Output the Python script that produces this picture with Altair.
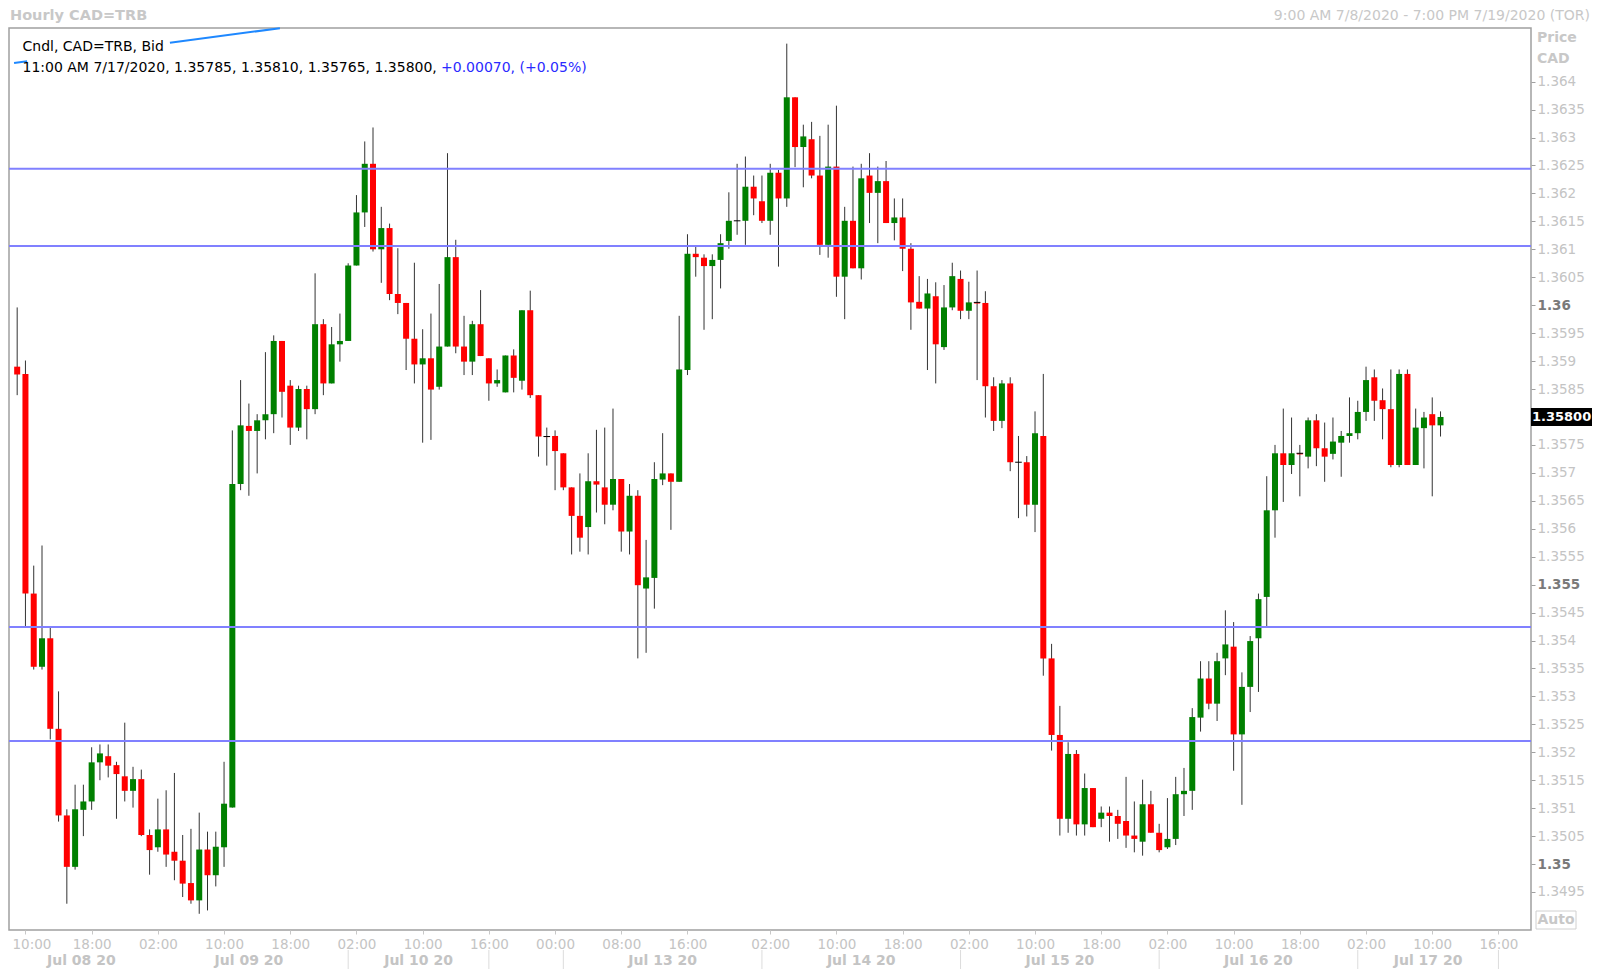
import altair as alt
import pandas as pd

# ---------------- data (hourly candles, index 0 = 9:00 AM 7/8/2020) ----------------
open_ = [1.35890, 1.35877, 1.35484, 1.35353, 1.35404, 1.35242, 1.35087, 1.34995, 1.35097, 1.35112,
         1.35182, 1.35193, 1.35177, 1.35157, 1.35131, 1.35152, 1.35052, 1.35030, 1.35062, 1.35022,
         1.35006, 1.34966, 1.34935, 1.35026, 1.34980, 1.35030, 1.35101, 1.35680, 1.35784, 1.35775,
         1.35794, 1.35805, 1.35936, 1.35856, 1.35781, 1.35850, 1.35814, 1.35966, 1.35860, 1.35930,
         1.35936, 1.36071, 1.36166, 1.36253, 1.36100, 1.36138, 1.36020, 1.36004, 1.35940, 1.35894,
         1.35905, 1.35854, 1.35926, 1.36086, 1.35926, 1.35899, 1.35966, 1.35905, 1.35860, 1.35844,
         1.35910, 1.35865, 1.35991, 1.35839, 1.35765, 1.35766, 1.35735, 1.35674, 1.35623, 1.35603,
         1.35685, 1.35674, 1.35643, 1.35689, 1.35595, 1.35659, 1.35493, 1.35512, 1.35688, 1.35699,
         1.35684, 1.35884, 1.36092, 1.36085, 1.36070, 1.36081, 1.36115, 1.36151, 1.36151, 1.36212,
         1.36186, 1.36151, 1.36237, 1.36191, 1.36372, 1.36283, 1.36297, 1.36232, 1.36108, 1.36248,
         1.36051, 1.36151, 1.36066, 1.36232, 1.36201, 1.36222, 1.36147, 1.36157, 1.36101, 1.36006,
         1.35994, 1.36016, 1.35925, 1.35996, 1.36047, 1.35990, 1.36005, 1.36004, 1.35855, 1.35793,
         1.35860, 1.35719, 1.35719, 1.35643, 1.35766, 1.35368, 1.35231, 1.35081, 1.35197, 1.35071,
         1.35136, 1.35081, 1.35092, 1.35086, 1.35077, 1.35051, 1.35040, 1.35107, 1.35056, 1.35030,
         1.35045, 1.35125, 1.35131, 1.35262, 1.35332, 1.35287, 1.35368, 1.35389, 1.35232, 1.35317,
         1.35404, 1.35478, 1.35633, 1.35735, 1.35714, 1.35735, 1.35729, 1.35794, 1.35744, 1.35734,
         1.35754, 1.35766, 1.35771, 1.35809, 1.35871, 1.35830, 1.35814, 1.35714, 1.35877, 1.35714,
         1.35780, 1.35805, 1.35785]
high = [1.35996, 1.35901, 1.35534, 1.35570, 1.35423, 1.35309, 1.35098, 1.35142, 1.35142, 1.35209,
        1.35214, 1.35214, 1.35183, 1.35253, 1.35174, 1.35169, 1.35062, 1.35117, 1.35132, 1.35163,
        1.35052, 1.35063, 1.35092, 1.35058, 1.35058, 1.35183, 1.35776, 1.35866, 1.35824, 1.35805,
        1.35916, 1.35946, 1.35936, 1.35866, 1.35856, 1.35856, 1.36057, 1.35975, 1.35961, 1.35985,
        1.36075, 1.36197, 1.36293, 1.36318, 1.36176, 1.36146, 1.36102, 1.36004, 1.36076, 1.35957,
        1.35985, 1.36038, 1.36272, 1.36117, 1.35981, 1.35972, 1.36027, 1.35905, 1.35885, 1.35910,
        1.35921, 1.35991, 1.36026, 1.35839, 1.35781, 1.35776, 1.35735, 1.35674, 1.35699, 1.35735,
        1.35777, 1.35781, 1.35815, 1.35689, 1.35680, 1.35669, 1.35580, 1.35719, 1.35771, 1.35699,
        1.35981, 1.36127, 1.36105, 1.36091, 1.36091, 1.36127, 1.36202, 1.36253, 1.36266, 1.36232,
        1.36232, 1.36253, 1.36242, 1.36468, 1.36372, 1.36323, 1.36328, 1.36303, 1.36323, 1.36357,
        1.36176, 1.36248, 1.36253, 1.36272, 1.36248, 1.36258, 1.36191, 1.36191, 1.36111, 1.36052,
        1.36047, 1.36041, 1.36036, 1.36076, 1.36062, 1.36042, 1.36062, 1.36025, 1.35871, 1.35866,
        1.35871, 1.35766, 1.35730, 1.35810, 1.35877, 1.35394, 1.35283, 1.35218, 1.35204, 1.35162,
        1.35136, 1.35103, 1.35103, 1.35097, 1.35156, 1.35112, 1.35151, 1.35131, 1.35072, 1.35118,
        1.35156, 1.35172, 1.35279, 1.35363, 1.35363, 1.35378, 1.35454, 1.35433, 1.35343, 1.35408,
        1.35484, 1.35694, 1.35750, 1.35815, 1.35799, 1.35750, 1.35799, 1.35805, 1.35790, 1.35799,
        1.35775, 1.35835, 1.35829, 1.35890, 1.35885, 1.35851, 1.35885, 1.35885, 1.35885, 1.35815,
        1.35809, 1.35835, 1.35810]
low = [1.35839, 1.35426, 1.35348, 1.35348, 1.35223, 1.35076, 1.34929, 1.34990, 1.35050, 1.35097,
       1.35150, 1.35155, 1.35081, 1.35112, 1.35101, 1.35050, 1.34981, 1.35022, 1.34995, 1.34971,
       1.34941, 1.34929, 1.34911, 1.34917, 1.34960, 1.34995, 1.35101, 1.35669, 1.35659, 1.35699,
       1.35760, 1.35771, 1.35799, 1.35750, 1.35775, 1.35760, 1.35805, 1.35839, 1.35860, 1.35899,
       1.35936, 1.36071, 1.36140, 1.36096, 1.36040, 1.36009, 1.35984, 1.35884, 1.35860, 1.35754,
       1.35759, 1.35849, 1.35926, 1.35914, 1.35875, 1.35875, 1.35909, 1.35829, 1.35854, 1.35844,
       1.35844, 1.35849, 1.35834, 1.35729, 1.35713, 1.35669, 1.35669, 1.35554, 1.35559, 1.35554,
       1.35629, 1.35608, 1.35633, 1.35559, 1.35554, 1.35368, 1.35378, 1.35457, 1.35678, 1.35598,
       1.35684, 1.35875, 1.36051, 1.35956, 1.35975, 1.36030, 1.36101, 1.36126, 1.36108, 1.36161,
       1.36147, 1.36126, 1.36069, 1.36176, 1.36247, 1.36211, 1.36227, 1.36090, 1.36085, 1.36015,
       1.35975, 1.36066, 1.36046, 1.36147, 1.36111, 1.36147, 1.36116, 1.36061, 1.35956, 1.35994,
       1.35884, 1.35860, 1.35920, 1.35991, 1.35975, 1.35975, 1.35866, 1.35799, 1.35775, 1.35780,
       1.35703, 1.35619, 1.35622, 1.35594, 1.35337, 1.35203, 1.35051, 1.35056, 1.35051, 1.35051,
       1.35066, 1.35066, 1.35040, 1.35045, 1.35029, 1.35021, 1.35015, 1.35056, 1.35021, 1.35027,
       1.35034, 1.35086, 1.35097, 1.35237, 1.35277, 1.35256, 1.35338, 1.35167, 1.35106, 1.35272,
       1.35308, 1.35424, 1.35584, 1.35648, 1.35698, 1.35658, 1.35708, 1.35712, 1.35684, 1.35724,
       1.35693, 1.35754, 1.35760, 1.35793, 1.35793, 1.35760, 1.35710, 1.35710, 1.35714, 1.35714,
       1.35708, 1.35658, 1.35765]
close = [1.35876, 1.35484, 1.35353, 1.35404, 1.35242, 1.35087, 1.34995, 1.35098, 1.35112, 1.35182,
         1.35198, 1.35176, 1.35161, 1.35131, 1.35152, 1.35052, 1.35025, 1.35062, 1.35017, 1.35006,
         1.34965, 1.34935, 1.35026, 1.34980, 1.35031, 1.35108, 1.35680, 1.35785, 1.35775, 1.35794,
         1.35805, 1.35936, 1.35845, 1.35781, 1.35850, 1.35814, 1.35966, 1.35860, 1.35930, 1.35936,
         1.36071, 1.36166, 1.36253, 1.36100, 1.36138, 1.36020, 1.36004, 1.35940, 1.35894, 1.35905,
         1.35849, 1.35926, 1.36086, 1.35926, 1.35899, 1.35966, 1.35909, 1.35860, 1.35866, 1.35910,
         1.35870, 1.35991, 1.35839, 1.35765, 1.35764, 1.35739, 1.35674, 1.35623, 1.35584, 1.35685,
         1.35679, 1.35643, 1.35689, 1.35595, 1.35659, 1.35499, 1.35513, 1.35689, 1.35699, 1.35684,
         1.35885, 1.36092, 1.36086, 1.36070, 1.36081, 1.36111, 1.36151, 1.36151, 1.36212, 1.36191,
         1.36151, 1.36237, 1.36191, 1.36372, 1.36283, 1.36302, 1.36232, 1.36108, 1.36248, 1.36051,
         1.36151, 1.36066, 1.36227, 1.36201, 1.36222, 1.36147, 1.36157, 1.36101, 1.36005, 1.35994,
         1.36021, 1.35930, 1.35996, 1.36052, 1.35990, 1.36005, 1.36003, 1.35855, 1.35793, 1.35860,
         1.35719, 1.35719, 1.35643, 1.35771, 1.35368, 1.35231, 1.35081, 1.35197, 1.35071, 1.35136,
         1.35066, 1.35092, 1.35086, 1.35072, 1.35051, 1.35045, 1.35107, 1.35056, 1.35025, 1.35045,
         1.35125, 1.35131, 1.35263, 1.35332, 1.35287, 1.35363, 1.35393, 1.35232, 1.35317, 1.35399,
         1.35474, 1.35633, 1.35735, 1.35714, 1.35735, 1.35733, 1.35794, 1.35744, 1.35729, 1.35756,
         1.35766, 1.35771, 1.35809, 1.35866, 1.35829, 1.35814, 1.35714, 1.35877, 1.35714, 1.35781,
         1.35799, 1.35785, 1.35800]

# horizontal support / resistance levels
level_prices = [1.36244, 1.36106, 1.35424, 1.35220]

# trend line (visible pieces), candle index / price
trend_x0 = [-0.38, 18.46]
trend_x1 = [1.2, 31.75]
trend_y0 = [1.364332, 1.364698]
trend_y1 = [1.364363, 1.364956]

# x axis (candle index of labelled hours)
time_tick_idx = [1, 9, 17, 25, 33, 41, 49, 57, 65, 73, 81, 91, 99, 107, 115, 123, 131, 139,
                 147, 155, 163, 171, 179]
time_tick_lbl = ["10:00", "18:00", "02:00", "10:00", "18:00", "02:00", "10:00", "16:00", "00:00",
                 "08:00", "16:00", "02:00", "10:00", "18:00", "02:00", "10:00", "18:00", "02:00",
                 "10:00", "18:00", "02:00", "10:00", "16:00"]
date_lbl = ["Jul 08 20", "Jul 09 20", "Jul 10 20", "Jul 13 20", "Jul 14 20", "Jul 15 20",
            "Jul 16 20", "Jul 17 20"]
date_pos = [7.75, 28, 48.5, 78, 102, 126, 150, 170.5]
day_sep = [40, 57, 66, 90, 114, 138, 162, 179]

# y axis ticks
price_ticks = [1.3495, 1.35, 1.3505, 1.351, 1.3515, 1.352, 1.3525, 1.353, 1.3535, 1.354,
               1.3545, 1.355, 1.3555, 1.356, 1.3565, 1.357, 1.3575, 1.3585, 1.359,
               1.3595, 1.36, 1.3605, 1.361, 1.3615, 1.362, 1.3625, 1.363, 1.3635, 1.364]

# ---------------- layout ----------------
W, H = 1522, 902
FONT = "DejaVu Sans"

xs = alt.Scale(domain=[-0.384, 182.33], nice=False, zero=False)
ys = alt.Scale(domain=[1.34882, 1.36496], nice=False, zero=False)

df = pd.DataFrame({"i": list(range(len(open_))), "o": open_, "h": high, "l": low, "c": close})
df["dir"] = ["up" if c >= o else "down" for o, c in zip(df["o"], df["c"])]
doji = df[(df["c"] - df["o"]).abs() < 0.00003].copy()
doji["xa"] = doji["i"] - 0.4
doji["xb"] = doji["i"] + 0.4

label_expr = ("[" + ",".join(f"'{s}'" for s in time_tick_lbl) + "][indexof(["
              + ",".join(str(v) for v in time_tick_idx) + "], datum.value)]")

x_axis = alt.Axis(values=time_tick_idx, labelExpr=label_expr, title=None, grid=False,
                  domain=False, tickSize=4, tickColor="#c8c8c8", labelColor="#c4c4c4",
                  labelFont="DejaVu Sans", labelFontSize=13.5, labelPadding=3,
                  labelOffset=alt.condition("datum.value < 2", alt.value(6), alt.value(0)))
bold_test = "abs(datum.value*200 - round(datum.value*200)) < 0.01"
y_axis = alt.Axis(orient="right", values=price_ticks, labelExpr="format(datum.value, '.4~f')",
                  title=None, grid=False, domain=False, tickSize=4, tickColor="#a0a0a0",
                  labelFont="DejaVu Sans", labelFontSize=13.5, labelPadding=2,
                  labelColor=alt.condition(bold_test, alt.value("#7a7a7a"), alt.value("#c4c4c4")),
                  labelFontWeight=alt.condition(bold_test, alt.value("bold"), alt.value("normal")))


def X(field):
    return alt.X(field, scale=xs, axis=x_axis)


def Y(field):
    return alt.Y(field, scale=ys, axis=y_axis)


wick = alt.Chart(df).mark_rule(color="#333333", strokeWidth=1).encode(
    x=X("i:Q"), y=Y("l:Q"), y2="h:Q",
)
body = alt.Chart(df).mark_bar(size=6).encode(
    x=X("i:Q"), y=Y("o:Q"), y2="c:Q",
    color=alt.Color("dir:N", scale=alt.Scale(domain=["up", "down"], range=["#008000", "#ff0000"]),
                    legend=None),
)
doji_l = alt.Chart(doji).mark_rule(color="#000000", strokeWidth=1).encode(
    x=X("xa:Q"), x2="xb:Q", y=Y("o:Q"),
)
levels = alt.Chart(pd.DataFrame({"p": level_prices})).mark_rule(color="#8080ff", strokeWidth=2).encode(
    y=Y("p:Q")
)
trend = alt.Chart(pd.DataFrame({"x0": trend_x0, "x1": trend_x1, "y0": trend_y0, "y1": trend_y1})).mark_rule(
    color="#1e88ff", strokeWidth=2).encode(
    x=X("x0:Q"), x2="x1:Q", y=Y("y0:Q"), y2="y1:Q",
)
seps = alt.Chart(pd.DataFrame({"s": day_sep})).mark_rule(color="#dcdcdc", strokeWidth=1).encode(
    x=X("s:Q"), y=alt.value(H + 20), y2=alt.value(H + 39)
)
dates = alt.Chart(pd.DataFrame({"d": date_pos, "t": date_lbl})).mark_text(
    font=FONT, fontSize=14, fontWeight="bold", color="#c4c4c4", baseline="middle").encode(
    x=X("d:Q"), y=alt.value(H + 30.5), text="t:N"
)

one = pd.DataFrame({"k": [0]})


def label(txt, x, y, **kw):
    return alt.Chart(one).mark_text(text=txt, font=FONT, baseline="middle", **kw).encode(
        x=alt.value(x), y=alt.value(y))


title_l = label("Hourly CAD=TRB", 1, -12, align="left", fontSize=14.5, fontWeight="bold", color="#c8c8c8")
title_r = label("9:00 AM 7/8/2020 - 7:00 PM 7/19/2020 (TOR)", 1581, -12, align="right", fontSize=14,
                color="#c8c8c8")
leg1 = label("Cndl, CAD=TRB, Bid", 13.5, 18.7, align="left", fontSize=14, color="#000000")
leg2 = label("11:00 AM 7/17/2020, 1.35785, 1.35810, 1.35765, 1.35800,", 13.5, 40.3, align="left",
             fontSize=14, color="#000000")
leg3 = label("+0.00070, (+0.05%)", 432, 40.3, align="left", fontSize=14, color="#2a2aff")
price_hdr = label("Price", 1528, 10, align="left", fontSize=14, fontWeight="bold", color="#c8c8c8")
cad_hdr = label("CAD", 1528, 31, align="left", fontSize=14, fontWeight="bold", color="#c8c8c8")

auto_box = alt.Chart(one).mark_rect(fill="white", stroke="#d0d0d0", strokeWidth=1).encode(
    x=alt.value(1527), x2=alt.value(1567), y=alt.value(883), y2=alt.value(901))
auto_txt = label("Auto", 1547, 892, align="center", fontSize=14, fontWeight="bold", color="#c8c8c8")

last = pd.DataFrame({"p": [close[-1]], "t": ["1.35800"]})
last_box = alt.Chart(last).mark_tick(orient="horizontal", thickness=18, size=62, color="#000000",
                                     opacity=1).encode(
    x=alt.value(1553), y=Y("p:Q"))
last_txt = alt.Chart(last).mark_text(font=FONT, fontSize=13, fontWeight="bold", color="#ffffff",
                                     align="left", baseline="middle").encode(
    x=alt.value(1523), y=Y("p:Q"), text="t:N")

chart = alt.layer(
    wick, body, doji_l, levels, trend, seps, dates,
    title_l, title_r, leg1, leg2, leg3, price_hdr, cad_hdr, auto_box, auto_txt, last_box, last_txt,
).properties(
    width=W, height=H,
    autosize=alt.AutoSizeParams(type="none"),
    padding={"left": 1, "top": 20, "right": 61, "bottom": 39},
    background="white",
).configure(font=FONT).configure_view(
    stroke="#a0a0a0", strokeWidth=1.5
)

chart.save("out.html", embed_options={"renderer": "svg", "actions": False})
